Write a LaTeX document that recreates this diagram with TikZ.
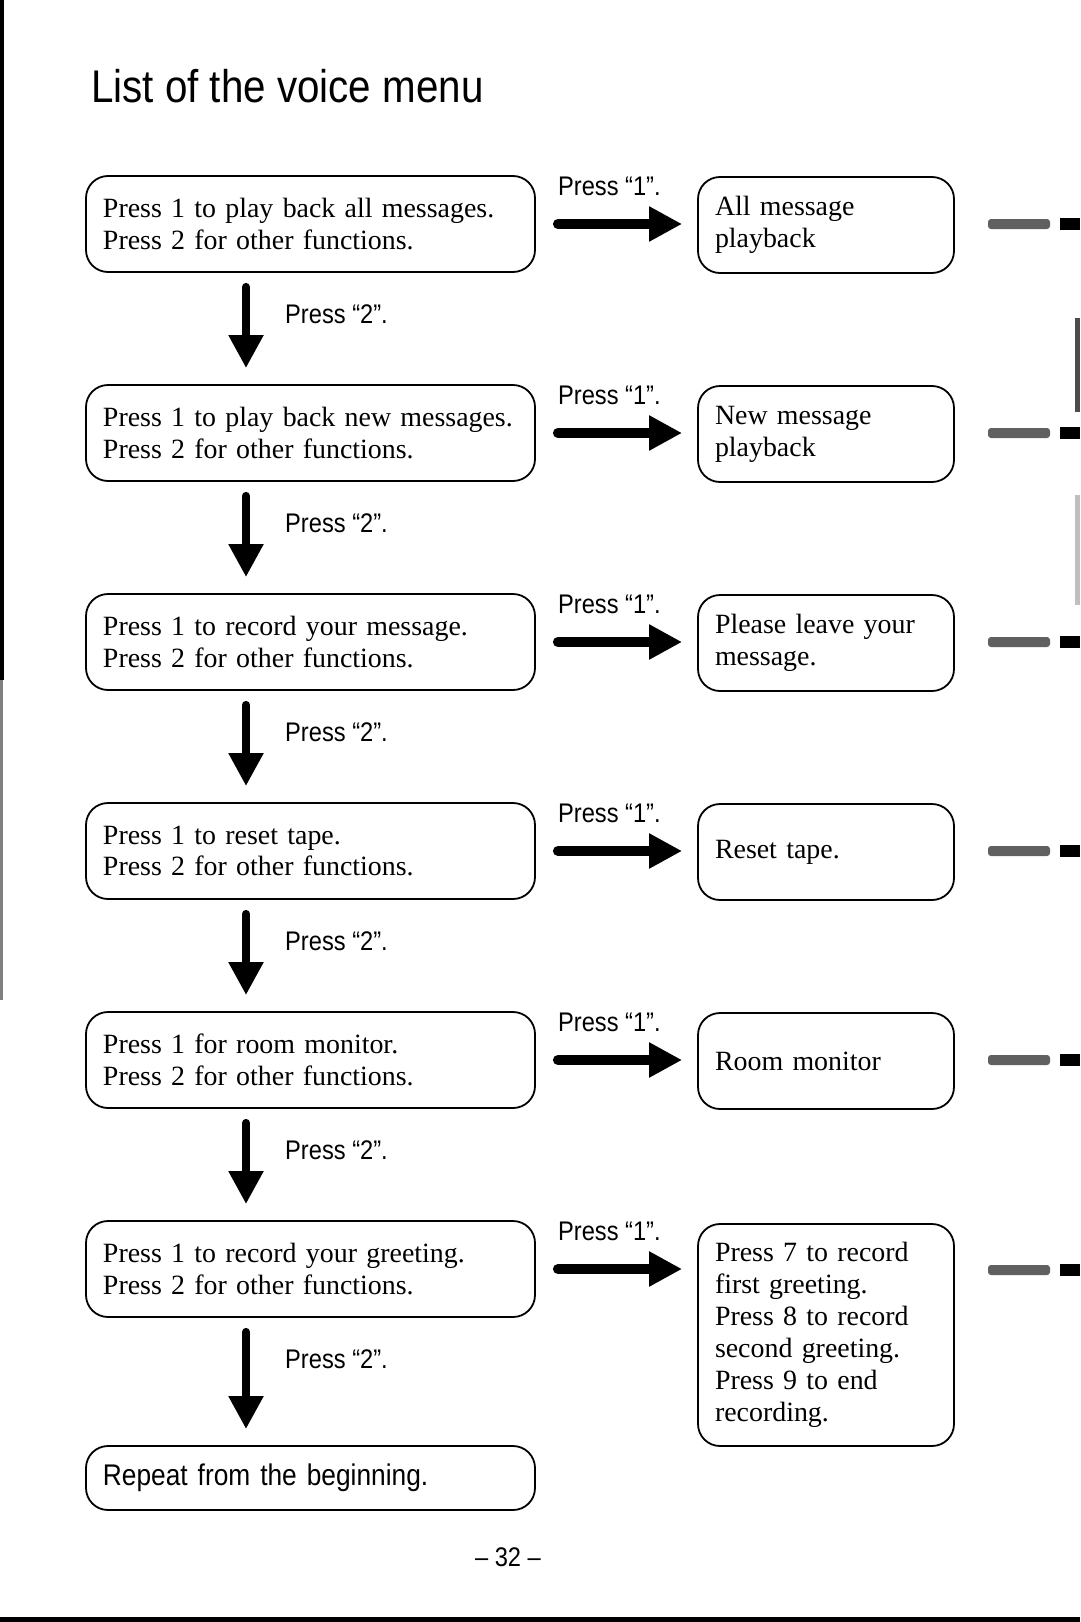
\documentclass[tikz,border=0pt]{standalone}
\usepackage{fontspec}
\setmainfont{Liberation Serif}
\newfontfamily\labelfont[FakeStretch=0.88]{Liberation Sans}
\usetikzlibrary{arrows.meta,positioning}

\begin{document}
\begin{tikzpicture}[x=1bp,y=-1bp,
  menubox/.style={draw,line width=1.8bp,rounded corners=22bp,inner xsep=17bp,inner ysep=0bp,
    text width=415bp,minimum height=96bp,align=left,font=\fontsize{28}{32}\selectfont},
  playbox/.style={menubox,text width=222bp},
  presslab/.style={inner sep=0bp,anchor=west,font=\labelfont\fontsize{27}{30}\selectfont},
  harrow/.style={line width=10bp,line cap=round,-{Triangle[length=33bp,width=33bp]},
    shorten <=22bp,shorten >=15bp},
  varrow/.style={line width=8bp,line cap=round,-{Triangle[length=33bp,width=33bp]},
    shorten <=14bp,shorten >=16bp}]
\useasboundingbox (0,0) rectangle (1080,1622);
\fill[white] (0,0) rectangle (1080,1622);

% page edges
\fill (0,0) rectangle (4,680);
\fill[gray] (0,680) rectangle (3,1000);
\fill (0,1617) rectangle (1080,1622);
\fill[gray!60!black] (1075,318) rectangle (1080,412);
\fill[gray!50] (1075,495) rectangle (1080,605);

\node[anchor=base west,inner sep=0bp,font=\labelfont\fontsize{46}{50}\selectfont] (title) at (91,102) {List of the voice menu};

% menu column
\node[menubox] (m1) at (310.5,224) {Press 1 to play back all messages.\\Press 2 for other functions.};
\node[menubox] (m2) at (310.5,433) {Press 1 to play back new messages.\\Press 2 for other functions.};
\node[menubox] (m3) at (310.5,642) {Press 1 to record your message.\\Press 2 for other functions.};
\node[menubox] (m4) at (310.5,851) {Press 1 to reset tape.\\Press 2 for other functions.};
\node[menubox] (m5) at (310.5,1060) {Press 1 for room monitor.\\Press 2 for other functions.};
\node[menubox] (m6) at (310.5,1269) {Press 1 to record your greeting.\\Press 2 for other functions.};
\node[menubox,minimum height=64bp,font=\labelfont\fontsize{30}{32}\selectfont] (rep) at (310.5,1478) {Repeat from the beginning.};

% function column
\node[playbox] (r1) at (826,225) {All message\\playback};
\node[playbox] (r2) at (826,434) {New message\\playback};
\node[playbox] (r3) at (826,643) {Please leave your\\message.};
\node[playbox] (r4) at (826,852) {Reset tape.};
\node[playbox] (r5) at (826,1061) {Room monitor};
\node[playbox,minimum height=222bp] (r6) at (826,1335) {Press 7 to record\\first greeting.\\Press 8 to record\\second greeting.\\Press 9 to end\\recording.};

\coordinate (col) at (246,0);

\foreach \a/\b in {m1/m2,m2/m3,m3/m4,m4/m5,m5/m6,m6/rep}{
  \draw[varrow] (\a.south -| col) -- (\b.north -| col);
  \path (\a.south -| col) ++(39,41) node[presslab] {Press “2”.};
}
\foreach \a/\b in {m1/r1,m2/r2,m3/r3,m4/r4,m5/r5,m6/r6}{
  \draw[harrow] (\a.east) -- (\a.east -| \b.west);
  \path (\a.east) ++(22,-38) node[presslab] {Press “1”.};
}

% cut-off marks at the right edge
\foreach \y in {224,433,642,851,1060,1270}{
  \fill[gray!75!black,rounded corners=3bp] (988,\y-5) rectangle (1050,\y+5);
  \fill (1060,\y-6) rectangle (1080,\y+6);
}

\node[font=\labelfont\fontsize{27}{30}\selectfont] (page) at (508,1557) {– 32 –};
\end{tikzpicture}
\end{document}
